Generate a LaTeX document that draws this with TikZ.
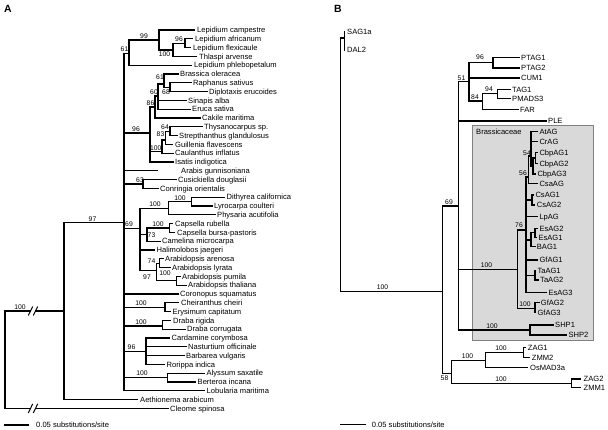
\documentclass[tikz,border=0pt]{standalone}
\usepackage{fontspec}
\setmainfont{Liberation Sans}
\newcommand{\mkleaf}[5]{\coordinate (#1) at (#2,#3);\node[lab] (#1t) at (#4,#3) {#5};}
\newcommand{\mkbr}[2]{\foreach \cc in {#2}{\draw[tree] (#1) |- (\cc);}}
\begin{document}
\begin{tikzpicture}[x=1bp,y=-1bp,
  tree/.style={line width=1.3bp,line cap=rect},
  lab/.style={anchor=base west,yshift=-2.7bp,inner sep=0,font=\fontsize{7.6}{8}\selectfont},
  bs/.style={anchor=base,inner sep=0,font=\fontsize{6.8}{7}\selectfont},
  panel/.style={inner sep=0,font=\bfseries\fontsize{10.5}{12}\selectfont}]
\fill[white] (0,0) rectangle (608,429);
\useasboundingbox (0,0) rectangle (608,429);

\node[panel] (labA) at (8,9) {A};
\node[panel] (labB) at (338,8.5) {B};

% ================= Panel A =================
\coordinate (aR) at (5,311);
\coordinate (aK1) at (30.5,311); \coordinate (aK2) at (35.5,311);
\coordinate (aK3) at (30.5,408.4); \coordinate (aK4) at (35.5,408.4);
\coordinate (aA1) at (64,311);
\draw[tree] (aK1) -- (aR) |- (aK3);
\draw[tree] (aK2) -- (aA1);
\mkleaf{aCl}{168}{408.4}{170}{Cleome spinosa}
\draw[tree] (aK4) -- (aCl);
\foreach \k in {aK1,aK2,aK3,aK4} \draw[line width=1bp] ([shift={(-2.2,4.5)}]\k) -- ([shift={(2.2,-4.5)}]\k);

\coordinate (aA2) at (124,222.7);
\mkleaf{aAe}{137}{399.6}{140}{Aethionema arabicum}
\mkbr{aA1}{aA2,aAe}

\coordinate (aN61) at (129,53.5);
\coordinate (aN96b) at (150,133);
\mkleaf{aAr}{157}{170.8}{181}{Arabis gunnisoniana}
\coordinate (aN63) at (143,184);
\coordinate (aN69) at (140,228.3);
\mkleaf{aCo}{178}{294}{180}{Coronopus squamatus}
\coordinate (aNCh) at (165,307.2);
\coordinate (aNDr) at (162.3,326);
\coordinate (aNCa) at (146,351.2);
\coordinate (aNAl) at (167.3,377.6);
\mkleaf{aLo}{204}{390.8}{206.5}{Lobularia maritima}
\mkbr{aA2}{aN61,aN96b,aAr,aN63,aN69,aCo,aNCh,aNDr,aNCa,aNAl,aLo}

\coordinate (aN99) at (159,40);
\mkleaf{aLph}{191}{65.2}{194}{Lepidium phlebopetalum}
\mkbr{aN61}{aN99,aLph}
\mkleaf{aLc}{194}{30}{197}{Lepidium campestre}
\coordinate (aN100L) at (173,50);
\mkbr{aN99}{aLc,aN100L}
\coordinate (aN96L) at (185,43.2);
\mkleaf{aTh}{196}{56.4}{199}{Thlaspi arvense}
\mkbr{aN100L}{aN96L,aTh}
\mkleaf{aLa}{192}{38.8}{195}{Lepidium africanum}
\mkleaf{aLf}{190}{47.6}{193}{Lepidium flexicaule}
\mkbr{aN96L}{aLa,aLf}

\coordinate (aN86) at (155,107);
\coordinate (aN100C) at (162,151.5);
\mkleaf{aIs}{173}{162}{175}{Isatis indigotica}
\mkbr{aN96b}{aN86,aN100C,aIs}
\coordinate (aN60) at (158,96);
\mkleaf{aCa}{200}{118}{202}{Cakile maritima}
\mkbr{aN86}{aN60,aCa}
\coordinate (aN61b) at (164,84);
\mkleaf{aSi}{186}{100.4}{188}{Sinapis alba}
\mkleaf{aEr}{190}{109.2}{192}{Eruca sativa}
\mkbr{aN60}{aN61b,aSi,aEr}
\mkleaf{aBr}{178}{74}{180}{Brassica oleracea}
\coordinate (aN68) at (170,87.2);
\mkbr{aN61b}{aBr,aN68}
\mkleaf{aRa}{191}{82.8}{193}{Raphanus sativus}
\mkleaf{aDi}{207}{91.6}{209}{Diplotaxis erucoides}
\mkbr{aN68}{aRa,aDi}
\coordinate (aN83) at (165.5,140);
\mkleaf{aCau}{173}{153.2}{175}{Caulanthus inflatus}
\mkbr{aN100C}{aN83,aCau}
\coordinate (aN64) at (170,131.2);
\mkleaf{aGu}{172}{144.4}{175}{Guillenia flavescens}
\mkbr{aN83}{aN64,aGu}
\mkleaf{aThy}{202}{126.8}{204}{Thysanocarpus sp.}
\mkleaf{aSt}{177}{135.6}{179}{Strepthanthus glandulosus}
\mkbr{aN64}{aThy,aSt}

\mkleaf{aCu}{176}{179.6}{178}{Cusickiella douglasii}
\mkleaf{aCon}{158}{188.4}{160}{Conringia orientalis}
\mkbr{aN63}{aCu,aCon}

\coordinate (aND) at (168.3,208.3);
\coordinate (aNCap) at (147,234.7);
\mkleaf{aHa}{154}{250}{156.5}{Halimolobos jaegeri}
\coordinate (aNAr) at (156.5,270.7);
\mkbr{aN69}{aND,aNCap,aHa,aNAr}
\coordinate (aND2) at (191.7,201.6);
\mkleaf{aPh}{215}{214.8}{217}{Physaria acutifolia}
\mkbr{aND}{aND2,aPh}
\mkleaf{aDit}{224}{197.2}{226.5}{Dithyrea californica}
\mkleaf{aLy}{212}{206}{214}{Lyrocarpa coulteri}
\mkbr{aND2}{aDit,aLy}
\coordinate (aNCap2) at (169.3,228);
\mkleaf{aCam}{160}{241.2}{162}{Camelina microcarpa}
\mkbr{aNCap}{aNCap2,aCam}
\mkleaf{aCr}{172.5}{223.6}{175}{Capsella rubella}
\mkleaf{aCb}{174.5}{232.4}{177}{Capsella bursa-pastoris}
\mkbr{aNCap2}{aCr,aCb}
\coordinate (aN74) at (159.5,263.2);
\coordinate (aNAp) at (176.7,280.8);
\mkbr{aNAr}{aN74,aNAp}
\mkleaf{aAa}{163}{258.8}{165}{Arabidopsis arenosa}
\mkleaf{aAl}{170}{267.6}{172}{Arabidopsis lyrata}
\mkbr{aN74}{aAa,aAl}
\mkleaf{aApu}{180}{276.4}{182}{Arabidopsis pumila}
\mkleaf{aAth}{186}{285.2}{188}{Arabidopsis thaliana}
\mkbr{aNAp}{aApu,aAth}

\mkleaf{aCh}{178}{302.8}{181}{Cheiranthus cheiri}
\mkleaf{aEry}{170}{311.6}{172.5}{Erysimum capitatum}
\mkbr{aNCh}{aCh,aEry}
\mkleaf{aDr}{170}{320.4}{173}{Draba rigida}
\mkleaf{aDc}{185}{329.2}{187}{Draba corrugata}
\mkbr{aNDr}{aDr,aDc}
\mkleaf{aCard}{169}{338}{171.5}{Cardamine corymbosa}
\mkleaf{aNa}{186}{346.8}{188}{Nasturtium officinale}
\mkleaf{aBa}{184}{355.6}{186}{Barbarea vulgaris}
\mkleaf{aRo}{164}{364.4}{166.5}{Rorippa indica}
\mkbr{aNCa}{aCard,aNa,aBa,aRo}
\mkleaf{aAly}{204}{373.2}{206.5}{Alyssum saxatile}
\mkleaf{aBe}{195}{382}{197.5}{Berteroa incana}
\mkbr{aNAl}{aAly,aBe}

% bootstrap A
\node[bs] (sA1) at (20,309.5) {100};
\node[bs] (sA2) at (92.5,221) {97};
\node[bs] (sA3) at (144,38.5) {99};
\node[bs] (sA4) at (179,41.7) {96};
\node[bs] (sA5) at (164.5,56) {100};
\node[bs] (sA6) at (124.5,51.5) {61};
\node[bs] (sA7) at (160,79.6) {61};
\node[bs] (sA8) at (154,94) {60};
\node[bs] (sA9) at (166,94) {68};
\node[bs] (sA10) at (150.5,105) {86};
\node[bs] (sA11) at (136,131.3) {96};
\node[bs] (sA12) at (165,129) {64};
\node[bs] (sA13) at (160.5,136.3) {83};
\node[bs] (sA14) at (155.7,150) {100};
\node[bs] (sA15) at (140,182.5) {63};
\node[bs] (sA16) at (155,206.5) {100};
\node[bs] (sA17) at (180,200) {100};
\node[bs] (sA18) at (129,226.5) {69};
\node[bs] (sA19) at (158,226.3) {100};
\node[bs] (sA20) at (151.5,237.8) {73};
\node[bs] (sA21) at (151.5,263.8) {74};
\node[bs] (sA22) at (147,279.3) {97};
\node[bs] (sA23) at (165,275) {100};
\node[bs] (sA24) at (141,305) {100};
\node[bs] (sA25) at (141,324) {100};
\node[bs] (sA26) at (131.5,349) {96};
\node[bs] (sA27) at (142,375.8) {100};

\coordinate (aS1) at (5,425); \coordinate (aS2) at (28.3,425);
\draw[tree] (aS1) -- (aS2);
\node[lab] (aSt) at (36,425) {0.05 substitutions/site};

% ================= Panel B =================
\filldraw[fill=black!15, draw=black!50, line width=0.8bp] (472,125) rectangle (593.3,340);
\node[lab] (bBrt) at (476,131.7) {Brassicaceae};

\coordinate (bR) at (340.7,38);
\coordinate (bS) at (344.3,38);
\mkleaf{bSAG}{344.3}{32}{347}{SAG1a}
\mkleaf{bDAL}{344.3}{50}{347}{DAL2}
\coordinate (bN1) at (442.7,291.7);
\mkbr{bR}{bS,bN1}
\mkbr{bS}{bSAG,bDAL}

\coordinate (bN69) at (458.3,206);
\coordinate (bN58) at (451.7,373.3);
\mkbr{bN1}{bN69,bN58}

\coordinate (bN51) at (469,81.5);
\mkleaf{bPLE}{546}{121}{548}{PLE}
\coordinate (bNAG) at (517.3,269.3);
\coordinate (bNSHP) at (530,330);
\mkbr{bN69}{bN51,bPLE,bNAG,bNSHP}

\coordinate (bN96) at (493,62.7);
\mkleaf{bCUM}{519}{78}{521}{CUM1}
\coordinate (bN84) at (482.3,101);
\mkbr{bN51}{bN96,bCUM,bN84}
\mkleaf{bPT1}{519}{57.5}{521}{PTAG1}
\mkleaf{bPT2}{519}{68}{521}{PTAG2}
\mkbr{bN96}{bPT1,bPT2}
\coordinate (bN94) at (497.7,93.8);
\mkleaf{bFAR}{518}{109.3}{520}{FAR}
\mkbr{bN84}{bN94,bFAR}
\mkleaf{bTAG}{510}{89.3}{512}{TAG1}
\mkleaf{bPM}{510}{98.3}{512}{PMADS3}
\mkbr{bN94}{bTAG,bPM}

\coordinate (bN76) at (526,230);
\coordinate (bNGf) at (535,308.3);
\mkbr{bNAG}{bN76,bNGf}
\coordinate (bN56) at (528.5,177);
\coordinate (bNCs) at (532,200);
\mkleaf{bLp}{537}{216.7}{539.3}{LpAG}
\coordinate (bNEs) at (531,240);
\mkleaf{bGf1}{537}{260}{539.3}{GfAG1}
\coordinate (bNTa) at (535,275.5);
\mkleaf{bEs3}{546}{292.3}{548.3}{EsAG3}
\mkbr{bN76}{bN56,bNCs,bLp,bNEs,bGf1,bNTa,bEs3}
\coordinate (bN54) at (531,156);
\mkleaf{bCsa}{537}{183.3}{539.3}{CsaAG}
\mkbr{bN56}{bN54,bCsa}
\mkleaf{bAt}{537}{131.7}{539.3}{AtAG}
\mkleaf{bCr}{537}{141.7}{539.3}{CrAG}
\coordinate (bNCbp) at (533,166);
\mkbr{bN54}{bAt,bCr,bNCbp}
\coordinate (bNCbp2) at (535.5,158);
\mkleaf{bCbp3}{535.5}{174}{537.3}{CbpAG3}
\mkbr{bNCbp}{bNCbp2,bCbp3}
\mkleaf{bCbp1}{537}{152.7}{539.3}{CbpAG1}
\mkleaf{bCbp2}{537}{163.3}{539.3}{CbpAG2}
\mkbr{bNCbp2}{bCbp1,bCbp2}
\mkleaf{bCs1}{533.5}{195}{535.3}{CsAG1}
\mkleaf{bCs2}{534.5}{205}{536.7}{CsAG2}
\mkbr{bNCs}{bCs1,bCs2}
\coordinate (bNEs2) at (535,232.8);
\mkleaf{bBAG}{535}{246.7}{536.7}{BAG1}
\mkbr{bNEs}{bNEs2,bBAG}
\mkleaf{bEs2}{537}{228.3}{539.3}{EsAG2}
\mkleaf{bEs1}{536.5}{237.3}{538.3}{EsAG1}
\mkbr{bNEs2}{bEs2,bEs1}
\mkleaf{bTa1}{535.5}{271}{537.3}{TaAG1}
\mkleaf{bTa2}{538}{280}{540}{TaAG2}
\mkbr{bNTa}{bTa1,bTa2}
\mkleaf{bGf2}{539}{302.7}{540.7}{GfAG2}
\mkleaf{bGf3}{535.5}{312.7}{537.3}{GfAG3}
\mkbr{bNGf}{bGf2,bGf3}
\mkleaf{bSHP1}{553}{325}{555}{SHP1}
\mkleaf{bSHP2}{566}{335}{568.3}{SHP2}
\mkbr{bNSHP}{bSHP1,bSHP2}

\coordinate (bNZ) at (485.7,360.7);
\coordinate (bNZ2) at (571.7,383.3);
\mkbr{bN58}{bNZ,bNZ2}
\coordinate (bNZ1) at (523.3,352.7);
\mkleaf{bOs}{527}{367.3}{530}{OsMAD3a}
\mkbr{bNZ}{bNZ1,bOs}
\mkleaf{bZAG1}{525.5}{347.7}{527.7}{ZAG1}
\mkleaf{bZMM2}{529.5}{357.3}{531.7}{ZMM2}
\mkbr{bNZ1}{bZAG1,bZMM2}
\mkleaf{bZAG2}{580}{379}{583.5}{ZAG2}
\mkleaf{bZMM1}{580}{387.3}{583.5}{ZMM1}
\mkbr{bNZ2}{bZAG2,bZMM1}

% bootstrap B
\node[bs] (sB1) at (480,59) {96};
\node[bs] (sB2) at (461.5,80) {51};
\node[bs] (sB3) at (489,91.6) {94};
\node[bs] (sB4) at (475,99.6) {84};
\node[bs] (sB5) at (527,155.6) {54};
\node[bs] (sB6) at (523,175.6) {56};
\node[bs] (sB7) at (449,204) {69};
\node[bs] (sB8) at (519,227.3) {76};
\node[bs] (sB9) at (486.5,267.3) {100};
\node[bs] (sB10) at (525,306.3) {100};
\node[bs] (sB11) at (492,328.3) {100};
\node[bs] (sB12) at (382.5,289.3) {100};
\node[bs] (sB13) at (501,350.6) {100};
\node[bs] (sB14) at (467.5,358.5) {100};
\node[bs] (sB15) at (444.5,380) {58};
\node[bs] (sB16) at (501,381) {100};

\coordinate (bS1) at (340.7,424.3); \coordinate (bS2) at (365,424.3);
\draw[tree] (bS1) -- (bS2);
\node[lab] (bSt) at (371.7,424.3) {0.05 substitutions/site};
\end{tikzpicture}
\end{document}
